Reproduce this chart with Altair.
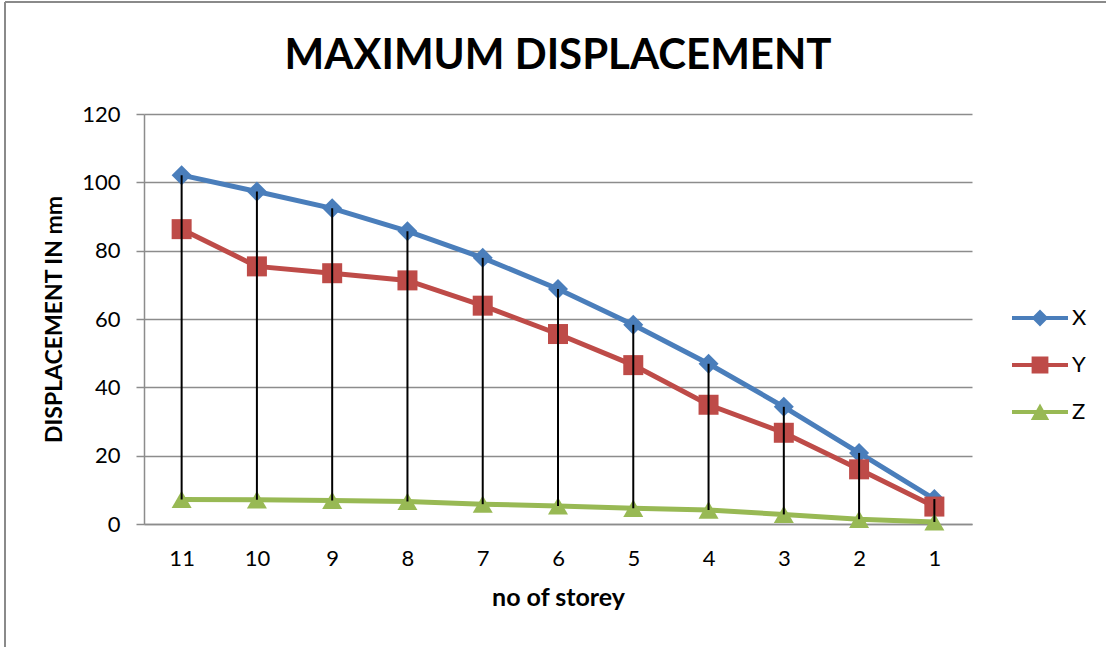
import altair as alt
import pandas as pd

storey = [11, 10, 9, 8, 7, 6, 5, 4, 3, 2, 1]
x_vals = [102.1, 97.3, 92.4, 85.7, 77.9, 68.8, 58.3, 46.9, 34.3, 20.8, 7.3]
y_vals = [86.3, 75.4, 73.4, 71.3, 63.9, 55.6, 46.5, 34.9, 26.7, 16.0, 5.1]
z_vals = [7.2, 7.1, 6.9, 6.6, 5.8, 5.3, 4.6, 4.1, 2.8, 1.4, 0.6]
series_names = ["X", "Y", "Z"]
series_colors = ["#4A7EBB", "#BE4B48", "#98B954"]
y_ticks = [0, 20, 40, 60, 80, 100, 120]

rows = []
for name, vals in zip(series_names, [x_vals, y_vals, z_vals]):
    for s, v in zip(storey, vals):
        rows.append({"storey": s, "value": v, "series": name})
df = pd.DataFrame(rows)
drop = pd.DataFrame({"storey": storey, "top": x_vals, "bottom": z_vals})
leg = pd.DataFrame({"storey": [11, 11, 11], "value": [0, 0, 0], "series": series_names})

FONT = "Lato"
GRID = "#8C8C8C"

x_enc = alt.X("storey:O", sort=storey,
              scale=alt.Scale(type="point", padding=0.5),
              axis=alt.Axis(title="no of storey", labelAngle=0, ticks=False,
                            labelFontSize=22, labelPadding=24, labelColor="black",
                            titleFontSize=25, titleFontWeight="bold", titlePadding=16,
                            titleColor="black", domainColor=GRID, domainWidth=1.5,
                            grid=False))
y_enc = alt.Y("value:Q", scale=alt.Scale(domain=[0, 120], nice=False),
              axis=alt.Axis(title="DISPLACEMENT IN mm", values=y_ticks,
                            labelFontSize=22, labelPadding=16, labelColor="black",
                            tickSize=8, tickColor=GRID, tickWidth=1.5,
                            domainColor=GRID, domainWidth=1.5,
                            gridColor=GRID, gridWidth=1.5,
                            titleFontSize=23, titleFontWeight="bold",
                            titleColor="black", titlePadding=15))
color_enc = alt.Color("series:N", scale=alt.Scale(domain=series_names, range=series_colors),
                      legend=None)

base = alt.Chart(df)
lines = base.mark_line(strokeWidth=5).encode(x=x_enc, y=y_enc, color=color_enc)
points = base.mark_point(filled=True, opacity=1, size=400).encode(
    x=x_enc, y=y_enc, color=color_enc,
    shape=alt.Shape("series:N", scale=alt.Scale(domain=series_names,
                                                range=["diamond", "square", "triangle-up"]),
                    legend=None))
drops = alt.Chart(drop).mark_rule(color="black", strokeWidth=2).encode(
    x=alt.X("storey:O", sort=storey), y="top:Q", y2="bottom:Q")

p_diamond = "M-1.4,-0.1L1.4,-0.1L1.4,0.1L-1.4,0.1Z M0,-0.42L0.42,0L0,0.42L-0.42,0Z"
p_square = "M-1.4,-0.1L1.4,-0.1L1.4,0.1L-1.4,0.1Z M-0.42,-0.42L0.42,-0.42L0.42,0.42L-0.42,0.42Z"
p_tri = "M-1.4,-0.1L1.4,-0.1L1.4,0.1L-1.4,0.1Z M0,-0.42L0.46,0.4L-0.46,0.4Z"

leg_props = dict(title=None, orient="none", legendX=876, legendY=184,
                 symbolSize=1600, symbolOpacity=1, symbolStrokeWidth=0,
                 labelFontSize=22, labelOffset=12, rowPadding=16,
                 labelColor="black", labelFont=FONT)

legend_layer = alt.Chart(leg).mark_point(filled=True, opacity=0).encode(
    x=alt.X("storey:O", sort=storey),
    y="value:Q",
    color=alt.Color("series:N", scale=alt.Scale(domain=series_names, range=series_colors),
                    legend=alt.Legend(**leg_props)),
    shape=alt.Shape("series:N", scale=alt.Scale(domain=series_names,
                                                range=[p_diamond, p_square, p_tri]),
                    legend=alt.Legend(**leg_props)),
)

border_df = pd.DataFrame({"k": [0]})
border_left = alt.Chart(border_df).mark_rule(color="#8A8A8A", strokeWidth=2).encode(
    x=alt.value(-139), y=alt.value(-112), y2=alt.value(540))
border_top = alt.Chart(border_df).mark_rule(color="#8A8A8A", strokeWidth=2).encode(
    x=alt.value(-139), x2=alt.value(970), y=alt.value(-112))

chart = alt.layer(lines, points, drops, legend_layer, border_left, border_top).resolve_scale(
    shape="independent", color="independent"
).properties(
    width=828, height=410,
    title=alt.TitleParams("MAXIMUM DISPLACEMENT", fontSize=42, font=FONT, fontWeight="bold",
                          color="black", anchor="middle", frame="group",
                          baseline="alphabetic", offset=-110),
    autosize=alt.AutoSizeParams(type="none"),
    padding={"left": 144, "top": 114, "right": 134, "bottom": 123},
).configure(font=FONT).configure_view(stroke=None).configure_axis(
    labelFont=FONT, titleFont=FONT
)

chart.save("out.html", embed_options={"renderer": "svg", "actions": False})
